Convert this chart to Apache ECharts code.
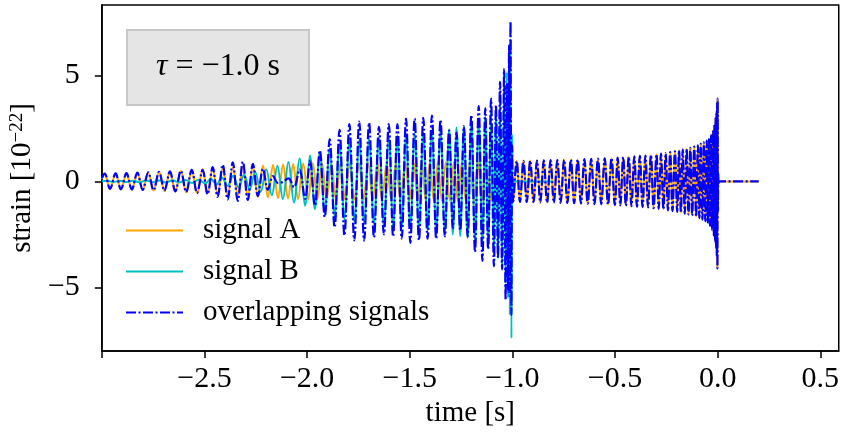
<!DOCTYPE html>
<html><head><meta charset="utf-8">
<script src="https://cdn.jsdelivr.net/npm/echarts@6/dist/echarts.min.js"></script>
<style>html,body{margin:0;padding:0;background:#fff}#c{width:842px;height:439px}</style>
</head><body><div id="c"></div>
<script>
// ---- data (extrema of each waveform, time in s, strain in 1e-22) ----
const aTimes = [-3.000,
 -2.986,-2.960,-2.933,-2.907,-2.880,-2.854,-2.827,-2.801,-2.774,-2.748,-2.721,-2.695,-2.668,-2.642,-2.615,-2.589,-2.562,-2.536,-2.509,
 -2.485,-2.460,-2.436,-2.411,-2.387,-2.362,-2.338,-2.313,-2.289,-2.264,-2.240,-2.215,-2.191,-2.166,-2.142,-2.117,-2.093,-2.068,-2.044,-2.019,-1.995,
 -1.972,-1.950,-1.927,-1.905,-1.882,-1.860,-1.837,-1.815,-1.792,-1.770,-1.747,-1.725,-1.702,-1.680,-1.657,-1.635,-1.612,-1.590,-1.567,-1.545,-1.522,-1.500,
 -1.480,-1.461,-1.441,-1.422,-1.402,-1.383,-1.363,-1.344,-1.324,-1.305,-1.285,-1.266,-1.246,-1.227,-1.207,-1.188,-1.168,-1.149,-1.129,-1.110,-1.090,-1.071,-1.051,-1.032,-1.012,
 -0.996,-0.979,-0.963,-0.946,-0.930,-0.913,-0.897,-0.880,-0.864,-0.847,-0.831,-0.814,-0.798,-0.781,-0.765,-0.748,-0.732,-0.715,-0.699,-0.682,-0.666,-0.649,-0.633,-0.616,-0.600,-0.583,-0.567,-0.550,-0.534,-0.517,-0.501,
 -0.487,-0.474,-0.460,-0.447,-0.433,-0.420,-0.406,-0.393,-0.379,-0.366,-0.352,-0.339,-0.325,-0.312,-0.298,
 -0.287,-0.276,-0.264,-0.253,-0.242,-0.231,-0.220,-0.208,-0.197,
 -0.188,-0.179,-0.170,-0.160,-0.151,-0.142,-0.133,-0.124,-0.114,-0.105,-0.096,
 -0.089,-0.082,-0.074,-0.067,-0.060,-0.053,
 -0.048,-0.042,-0.037,-0.032,-0.027,-0.022,
 -0.0185,-0.0155,-0.0127,-0.0101,-0.0078,-0.0058,-0.0040,-0.0024,-0.0010,0.0003,
 0.0016,0.0030,0.0045,0.0070,0.2000];
const aValues = [0.12,
 0.36,-0.36,0.37,-0.38,0.38,-0.39,0.40,-0.41,0.42,-0.43,0.44,-0.45,0.46,-0.48,0.49,-0.51,0.53,-0.55,0.57,
 -0.58,0.60,-0.61,0.62,-0.64,0.65,-0.66,0.68,-0.69,0.71,-0.72,0.74,-0.75,0.77,-0.78,0.80,-0.81,0.82,-0.83,0.84,-0.85,
 0.85,-0.85,0.86,-0.86,0.86,-0.86,0.86,-0.86,0.87,-0.87,0.87,-0.87,0.87,-0.87,0.88,-0.88,0.88,-0.88,0.88,-0.88,0.88,-0.89,
 0.89,-0.89,0.89,-0.90,0.90,-0.90,0.90,-0.91,0.91,-0.91,0.91,-0.92,0.92,-0.92,0.92,-0.93,0.93,-0.93,0.93,-0.94,0.94,-0.94,0.95,-0.95,0.95,
 -0.96,0.96,-0.97,0.97,-0.97,0.98,-0.98,0.98,-0.99,0.99,-1.00,1.00,-1.00,1.01,-1.01,1.02,-1.02,1.03,-1.03,1.04,-1.04,1.05,-1.05,1.06,-1.07,1.07,-1.08,1.09,-1.10,1.10,-1.11,
 1.12,-1.13,1.14,-1.15,1.16,-1.17,1.18,-1.19,1.20,-1.21,1.22,-1.23,1.25,-1.26,1.28,
 -1.29,1.31,-1.32,1.34,-1.36,1.38,-1.40,1.42,-1.44,
 1.46,-1.48,1.50,-1.52,1.54,-1.56,1.58,-1.61,1.64,-1.67,1.70,
 -1.73,1.77,-1.80,1.84,-1.88,1.92,
 -1.97,2.03,-2.10,2.18,-2.28,2.42,
 -2.55,2.70,-2.85,3.00,-3.15,3.30,-3.50,3.70,-4.10,3.90,
 -1.40,0.35,-0.08,0,0];

const bTimes = [-3.000,-2.976,-2.944,-2.912,-2.880,-2.848,-2.816,-2.784,-2.752,-2.720,-2.688,-2.656,-2.624,-2.592,-2.560,-2.528,
 -2.496,-2.469,-2.442,-2.415,-2.388,-2.361,-2.334,-2.307,-2.280,-2.253,-2.226,-2.199,-2.172,-2.145,-2.118,-2.091,-2.064,-2.037,-2.010,
 -1.986,-1.962,-1.938,-1.914,-1.890,-1.866,-1.842,-1.818,-1.794,-1.770,-1.746,-1.722,-1.698,-1.674,-1.650,-1.626,-1.602,
 -1.581,-1.560,-1.539,-1.518,-1.497,-1.476,-1.455,-1.434,-1.413,-1.392,-1.371,-1.350,-1.329,-1.308,
 -1.290,-1.272,-1.254,-1.236,-1.218,-1.200,-1.182,-1.164,-1.146,
 -1.132,-1.118,-1.104,-1.090,-1.080,-1.070,-1.060,-1.050,-1.040,-1.033,-1.027,-1.021,-1.016,-1.0125,-1.009,-1.0045,
 -1.001,-0.998,-0.995,-0.990,-0.800];
const bValues = [0,0.03,-0.03,0.03,-0.03,0.03,-0.04,0.04,-0.04,0.04,-0.05,0.05,-0.05,0.06,-0.07,0.08,
 -0.10,0.12,-0.15,0.18,-0.21,0.25,-0.29,0.33,-0.38,0.44,-0.50,0.57,-0.65,0.74,-0.83,0.92,-1.00,1.08,-1.15,
 1.22,-1.30,1.38,-1.47,1.56,-1.65,1.73,-1.80,1.86,-1.91,1.95,-1.99,2.02,-2.05,2.08,-2.10,2.13,
 -2.15,2.17,-2.19,2.21,-2.23,2.25,-2.27,2.29,-2.31,2.33,-2.36,2.39,-2.42,2.46,
 -2.50,2.54,-2.58,2.63,-2.68,2.74,-2.81,2.89,-2.98,
 3.06,-3.15,3.25,-3.37,3.50,-3.65,3.85,-4.10,4.45,-4.80,5.15,-5.50,5.90,-6.30,6.70,-7.40,
 2.20,-0.50,0.10,0,0];

// overlapping signal up to the merger of B (after that it is signal A alone)
const mixTimes = [-3.000,
 -2.986,-2.960,-2.933,-2.907,-2.880,-2.854,-2.827,-2.801,-2.774,-2.748,-2.721,-2.695,-2.668,-2.642,-2.615,-2.589,-2.562,-2.536,
 -2.509,-2.485,-2.460,-2.436,-2.411,-2.387,-2.362,-2.338,-2.313,-2.289,-2.264,-2.240,-2.215,-2.191,-2.166,-2.142,
 -2.118,-2.091,-2.064,-2.037,-2.010,-1.986,-1.962,-1.938,-1.914,-1.890,-1.866,-1.842,-1.818,-1.794,-1.770,-1.746,-1.722,-1.698,-1.674,-1.650,-1.626,-1.602,
 -1.581,-1.560,-1.539,-1.518,-1.497,-1.476,-1.455,-1.434,-1.413,-1.392,-1.371,-1.350,-1.329,-1.308,
 -1.290,-1.272,-1.254,-1.236,-1.218,-1.200,-1.182,-1.164,-1.146,
 -1.132,-1.118,-1.104,-1.090,-1.080,-1.070,-1.060,-1.050,-1.040,-1.033,-1.027,-1.021,-1.016,-1.0125,-1.009,-1.0045,-1.001];
const mixValues = [0.15,
 0.37,-0.35,0.38,-0.37,0.39,-0.38,0.41,-0.40,0.43,-0.42,0.45,-0.44,0.47,-0.47,0.50,-0.50,0.54,-0.55,
 0.54,-0.61,0.67,-0.73,0.78,-0.85,0.90,-0.92,0.93,-0.88,0.83,-0.69,0.59,-0.40,0.25,-0.08,
 -0.03,0.14,-0.28,0.57,-0.82,0.96,-1.14,1.46,-1.68,1.99,-2.17,2.43,-2.55,2.70,-2.78,2.82,-2.79,2.76,-2.64,2.57,-2.50,2.70,
 -2.60,2.70,-2.70,2.96,-2.90,2.96,-2.77,3.00,-2.70,3.10,-2.70,2.90,-2.60,2.40,
 -2.20,2.30,-2.30,2.60,-2.60,3.13,-3.33,3.55,-3.75,
 3.45,-3.20,3.90,-4.00,3.60,-3.60,4.70,-4.15,5.30,-5.60,4.60,-5.20,6.40,-5.40,7.55,-6.30,1.70];

const seriesNames = ['signal A', 'signal B', 'overlapping signals'];
const xTickValues = [-3.0, -2.5, -2.0, -1.5, -1.0, -0.5, 0.0, 0.5];
const xLabelValues = [-2.5, -2.0, -1.5, -1.0, -0.5, 0.0, 0.5];
const yTickValues = [-5, 0, 5];
const tauLabel = '\u03c4';
const tauValue = ' = \u22121.0 s';

// ---- build ----
const FONT = 'Liberation Serif';
const pairs = (ts, vs) => ts.map((t, i) => [t, vs[i]]);
const lastMix = mixTimes[mixTimes.length - 1];
const dataA = pairs(aTimes, aValues);
const dataB = pairs(bTimes, bValues);
const dataMix = pairs(mixTimes, mixValues).concat(dataA.filter(p => p[0] > lastMix));
const minus = s => s.replace('-', '\u2212');

const chart = echarts.init(document.getElementById('c'), null, {renderer: 'canvas'});
const axisCommon = {
  splitLine: {show: false},
  axisLine: {show: true, onZero: false, lineStyle: {color: '#000', width: 1.5}},
  nameTextStyle: {fontFamily: FONT, fontSize: 29, color: '#000'}
};
chart.setOption({
  animation: false,
  backgroundColor: '#fff',
  grid: {left: 101, right: 2, top: 5, bottom: 88, show: true, borderColor: '#000', borderWidth: 1.5},
  xAxis: Object.assign({}, axisCommon, {
    type: 'value', min: -3.0, max: 0.59,
    axisTick: {show: true, inside: false, length: 7, lineStyle: {color: '#000', width: 1.5}, customValues: xTickValues},
    axisLabel: {customValues: xLabelValues, color: '#000', fontFamily: FONT, fontSize: 30, margin: 13,
      formatter: v => minus(Number(v).toFixed(1))},
    name: 'time [s]', nameLocation: 'middle', nameGap: 48
  }),
  yAxis: Object.assign({}, axisCommon, {
    type: 'value', min: -8.0, max: 8.32,
    axisTick: {show: true, inside: false, length: 7, lineStyle: {color: '#000', width: 1.5}, customValues: yTickValues},
    axisLabel: {customValues: yTickValues, color: '#000', fontFamily: FONT, fontSize: 30, margin: 22,
      formatter: v => minus(String(Math.round(v)))},
    name: '{a|strain [10}{s|\u221222}{a|]}', nameLocation: 'middle', nameGap: 64, nameRotate: 90,
    nameTextStyle: {rich: {
      a: {fontFamily: FONT, fontSize: 29, color: '#000'},
      s: {fontFamily: FONT, fontSize: 19, color: '#000', verticalAlign: 'top'}
    }}
  }),
  legend: {
    data: seriesNames, orient: 'vertical', left: 125, top: 216, padding: 0,
    itemWidth: 57, itemHeight: 12, itemGap: 12,
    itemStyle: {opacity: 0},
    textStyle: {fontFamily: FONT, fontSize: 29, color: '#000', padding: [0, 0, 0, 15]}
  },
  graphic: [
    {type: 'rect', z: 50, shape: {x: 127, y: 30, width: 182, height: 75},
      style: {fill: '#E5E5E5', stroke: '#C8C8C8', lineWidth: 2}},
    {type: 'text', z: 51, x: 218, y: 67,
      style: {text: '{i|' + tauLabel + '}{n|' + tauValue + '}', align: 'center', verticalAlign: 'middle',
        textAlign: 'center', textVerticalAlign: 'middle',
        rich: {i: {fontFamily: FONT, fontSize: 32, fontStyle: 'italic', fill: '#000'},
               n: {fontFamily: FONT, fontSize: 32, fill: '#000'}}}}
  ],
  series: [
    {name: seriesNames[0], type: 'line', data: dataA, symbol: 'none', smooth: 0.36, silent: true,
      color: '#FFA500', lineStyle: {color: '#FFA500', width: 2}},
    {name: seriesNames[1], type: 'line', data: dataB, symbol: 'none', smooth: 0.36, silent: true,
      color: '#00BFBF', lineStyle: {color: '#00BFBF', width: 2}},
    {name: seriesNames[2], type: 'line', data: dataMix, symbol: 'none', smooth: 0.36, silent: true,
      color: '#0000FF', lineStyle: {color: '#0000FF', width: 2.2, type: [10, 2.5, 2, 2.5], cap: 'butt'}}
  ]
});
</script>
</body></html>
